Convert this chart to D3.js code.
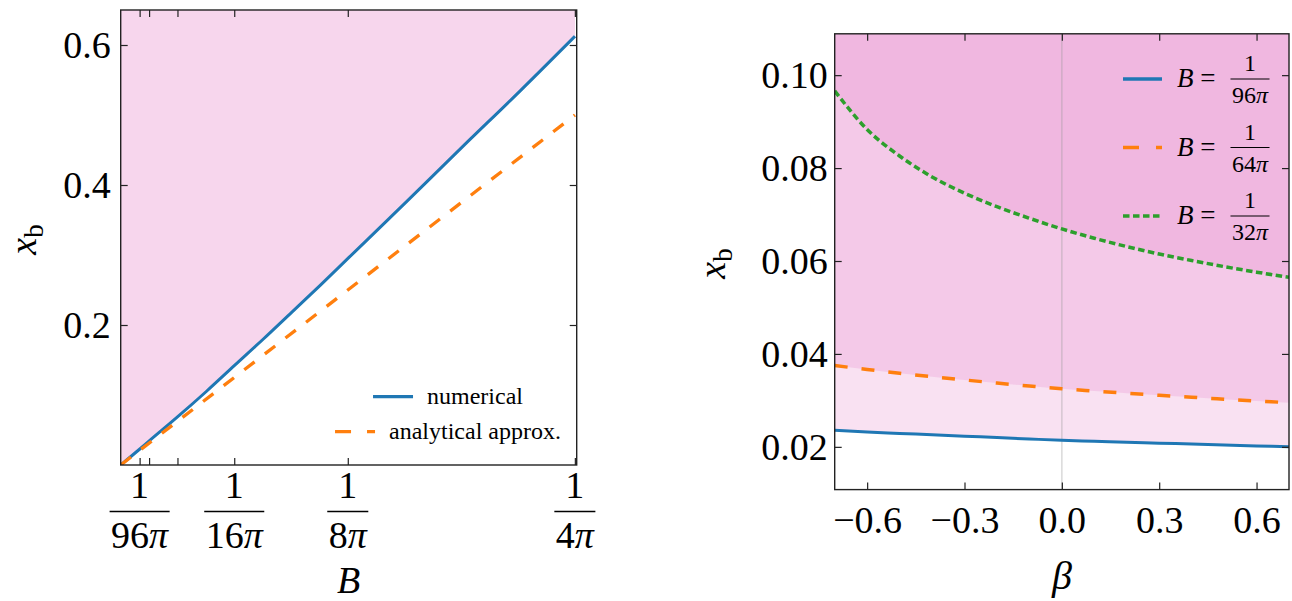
<!DOCTYPE html>
<html>
<head>
<meta charset="utf-8">
<script src="https://cdn.jsdelivr.net/npm/d3@7"></script>
<style>
  body { margin: 0; background: #fff; }
</style>
</head>
<body>
<svg id="chart" width="1292" height="601" font-family="'Liberation Serif', 'DejaVu Serif', serif"></svg>
<script>
// ---- left panel: x_b against B ----
const bVals = [0, 0.0033, 0.005, 0.01, 0.015, 0.02, 0.025, 0.03, 0.035, 0.04, 0.05, 0.06, 0.07, 0.0796];
const numerical = [0, 0.0225, 0.0344, 0.069, 0.105, 0.1426, 0.18, 0.2185, 0.257, 0.2965, 0.3755, 0.4555, 0.5345, 0.6125];
const bApprox = [0, 0.0199, 0.0398, 0.0796];
const approx = [0, 0.125, 0.25, 0.5];
const bTickDenoms = [96, 16, 8, 4];   // labelled ticks at B = 1/(d*pi)
const bMinorDenoms = [64, 32];        // unlabelled ticks
const leftYTicks = [0.2, 0.4, 0.6];

// ---- right panel: x_b against beta ----
const beta = [-0.7, -0.6, -0.5, -0.4, -0.3, -0.2, -0.1, 0, 0.1, 0.2, 0.3, 0.4, 0.5, 0.6, 0.7];
const xb96 = [0.0236, 0.0232, 0.0229, 0.0226, 0.0223, 0.022, 0.0217, 0.0214, 0.0212, 0.021, 0.0208, 0.0206, 0.0204, 0.0202, 0.02];
const xb64 = [0.0375, 0.03665, 0.03585, 0.0351, 0.0344, 0.03373, 0.0331, 0.0325, 0.032, 0.03153, 0.03109, 0.03067, 0.03027, 0.02988, 0.0295];
const xb32 = [0.0966, 0.0883, 0.0826, 0.0781, 0.0746, 0.0717, 0.0692, 0.0669, 0.0649, 0.0631, 0.0615, 0.0601, 0.0588, 0.0576, 0.0565];
const betaTicks = [-0.6, -0.3, 0, 0.3, 0.6];
const rightYTicks = [0.02, 0.04, 0.06, 0.08, 0.10];
const legendDenoms = [96, 64, 32];

const blue = "#1f77b4", orange = "#ff7f0e", green = "#2ca02c", pink = "#e377c2";
const spine = "#222";
const serif = "'Liberation Serif', 'DejaVu Serif', serif";

const svg = d3.select("#chart");

function styleAxis(g) {
    g.select(".domain").remove();
    g.attr("font-family", serif);
    g.selectAll(".tick line").attr("stroke", spine).attr("stroke-width", 1.2);
    g.selectAll(".tick text").attr("font-size", 38);
}

function frame(x0, y0, x1, y1) {
    svg.append("rect")
        .attr("x", x0).attr("y", y0)
        .attr("width", x1 - x0).attr("height", y1 - y0)
        .attr("fill", "none").attr("stroke", spine).attr("stroke-width", 1.4);
}

// ================= left panel =================
const xL = d3.scaleLinear().domain([0, 0.0799]).range([120.7, 576.7]);
const yL = d3.scaleLinear().domain([0, 0.65]).range([465, 10]);

svg.append("clipPath").attr("id", "clipL").append("rect")
    .attr("x", 120.7).attr("y", 10).attr("width", 456).attr("height", 455);

const gL = svg.append("g").attr("clip-path", "url(#clipL)");
const idxL = d3.range(bVals.length);

gL.append("path")
    .attr("d", d3.area()
        .x(i => xL(bVals[i]))
        .y0(yL(0.65))
        .y1(i => yL(numerical[i]))
        .curve(d3.curveMonotoneX)(idxL))
    .attr("fill", pink).attr("fill-opacity", 0.3);

gL.append("path")
    .attr("d", d3.line().x(i => xL(bVals[i])).y(i => yL(numerical[i])).curve(d3.curveMonotoneX)(idxL))
    .attr("fill", "none").attr("stroke", blue).attr("stroke-width", 3);

gL.append("path")
    .attr("d", d3.line().x(i => xL(bApprox[i])).y(i => yL(approx[i]))(d3.range(bApprox.length)))
    .attr("fill", "none").attr("stroke", orange).attr("stroke-width", 3.3)
    .attr("stroke-dasharray", "13,13");

const bMajor = bTickDenoms.map(d => 1 / (d * Math.PI));
const bAll = bMajor.concat(bMinorDenoms.map(d => 1 / (d * Math.PI)));

svg.append("g").attr("transform", "translate(0,465)")
    .call(d3.axisBottom(xL).tickValues(bAll).tickSizeInner(-7).tickSizeOuter(0).tickFormat(""))
    .call(styleAxis);
svg.append("g").attr("transform", "translate(0,10)")
    .call(d3.axisTop(xL).tickValues(bAll).tickSizeInner(-7).tickSizeOuter(0).tickFormat(""))
    .call(styleAxis);
svg.append("g").attr("transform", "translate(120.7,0)")
    .call(d3.axisLeft(yL).tickValues(leftYTicks).tickSizeInner(-7).tickSizeOuter(0).tickPadding(10).tickFormat(d3.format(".1f")))
    .call(styleAxis);
svg.append("g").attr("transform", "translate(576.7,0)")
    .call(d3.axisRight(yL).tickValues(leftYTicks).tickSizeInner(-7).tickSizeOuter(0).tickFormat(""))
    .call(styleAxis);

// fraction tick labels 1/(d pi)
bTickDenoms.forEach((d, i) => {
    const cx = xL(bMajor[i]);
    const g = svg.append("g").attr("transform", `translate(${cx},465)`);
    g.append("text").attr("y", 33).attr("text-anchor", "middle").attr("font-size", 38).text("1");
    const den = g.append("text").attr("y", 83).attr("text-anchor", "middle").attr("font-size", 38);
    den.append("tspan").text(d);
    den.append("tspan").attr("font-style", "italic").text("π");
    const w = den.node().getComputedTextLength() + 3;
    g.append("line").attr("x1", -w / 2).attr("x2", w / 2).attr("y1", 46.5).attr("y2", 46.5)
        .attr("stroke", "#000").attr("stroke-width", 1.6);
});

frame(120.7, 10, 576.7, 465);

// axis labels
svg.append("text").attr("x", 348.7).attr("y", 593).attr("text-anchor", "middle")
    .attr("font-size", 38).attr("font-style", "italic").text("B");

function xbLabel(x, y) {
    const t = svg.append("text").attr("transform", `translate(${x},${y}) rotate(-90)`)
        .attr("text-anchor", "middle").attr("font-size", 38);
    t.append("tspan").attr("font-style", "italic").text("x");
    t.append("tspan").attr("font-size", 27).attr("dy", 7).text("b");
}
xbLabel(36, 239.5);

// left legend (rows centred)
const legL = [
    { label: "numerical", color: blue, dash: null, y: 396.7 },
    { label: "analytical approx.", color: orange, dash: "16,16", y: 431.7 }
];
legL.forEach(r => {
    const t = svg.append("text").attr("font-size", 24).attr("y", r.y + 7).text(r.label);
    const tw = t.node().getComputedTextLength();
    const total = 40 + 14 + tw;
    const x0 = 448 - total / 2;
    t.attr("x", x0 + 54);
    svg.append("line").attr("x1", x0).attr("x2", x0 + 40).attr("y1", r.y).attr("y2", r.y)
        .attr("stroke", r.color).attr("stroke-width", 3.3)
        .attr("stroke-dasharray", r.dash);
});

// ================= right panel =================
const xR = d3.scaleLinear().domain([-0.7, 0.7]).range([834.7, 1289]);
const yR = d3.scaleLinear().domain([0.0108, 0.1089]).range([489.6, 33.8]);

svg.append("clipPath").attr("id", "clipR").append("rect")
    .attr("x", 834.7).attr("y", 33.8).attr("width", 1289 - 834.7).attr("height", 489.6 - 33.8);
const gR = svg.append("g").attr("clip-path", "url(#clipR)");
const idxR = d3.range(beta.length);

[xb96, xb64, xb32].forEach(s => {
    gR.append("path")
        .attr("d", d3.area().x(i => xR(beta[i])).y0(yR(0.1089)).y1(i => yR(s[i]))
            .curve(d3.curveMonotoneX)(idxR))
        .attr("fill", pink).attr("fill-opacity", 0.22);
});

gR.append("line").attr("x1", xR(0)).attr("x2", xR(0)).attr("y1", 33.8).attr("y2", 489.6)
    .attr("stroke", "#999").attr("stroke-opacity", 0.35).attr("stroke-width", 1.6);

const series = [
    { data: xb96, color: blue, dash: null, w: 3 },
    { data: xb64, color: orange, dash: "13,14", w: 3.5 },
    { data: xb32, color: green, dash: "6.5,3.5", w: 3.5 }
];
series.forEach(s => {
    gR.append("path")
        .attr("d", d3.line().x(i => xR(beta[i])).y(i => yR(s.data[i])).curve(d3.curveMonotoneX)(idxR))
        .attr("fill", "none").attr("stroke", s.color).attr("stroke-width", s.w)
        .attr("stroke-dasharray", s.dash);
});

svg.append("g").attr("transform", "translate(0,489.6)")
    .call(d3.axisBottom(xR).tickValues(betaTicks).tickSizeInner(-7).tickSizeOuter(0).tickPadding(16).tickFormat(d3.format(".1f")))
    .call(styleAxis);
svg.append("g").attr("transform", "translate(0,33.8)")
    .call(d3.axisTop(xR).tickValues(betaTicks).tickSizeInner(-7).tickSizeOuter(0).tickFormat(""))
    .call(styleAxis);
svg.append("g").attr("transform", "translate(834.7,0)")
    .call(d3.axisLeft(yR).tickValues(rightYTicks).tickSizeInner(-7).tickSizeOuter(0).tickPadding(7).tickFormat(d3.format(".2f")))
    .call(styleAxis);
svg.append("g").attr("transform", "translate(1289,0)")
    .call(d3.axisRight(yR).tickValues(rightYTicks).tickSizeInner(-7).tickSizeOuter(0).tickFormat(""))
    .call(styleAxis);

frame(834.7, 33.8, 1289, 489.6);

svg.append("text").attr("x", 1062).attr("y", 589).attr("text-anchor", "middle")
    .attr("font-size", 40).attr("font-style", "italic").text("β");
xbLabel(725, 263.5);

// right legend
legendDenoms.forEach((d, i) => {
    const s = series[i];
    const yc = 79 + i * 68.5;
    svg.append("line").attr("x1", 1123).attr("x2", 1162).attr("y1", yc).attr("y2", yc)
        .attr("stroke", s.color).attr("stroke-width", 3.3)
        .attr("stroke-dasharray", s.dash ? (i === 1 ? "16,17" : s.dash) : null);
    const t = svg.append("text").attr("x", 1177).attr("y", yc + 8).attr("font-size", 27);
    t.append("tspan").attr("font-style", "italic").text("B");
    t.append("tspan").text(" = ");
    const cx = 1250;
    svg.append("text").attr("x", cx).attr("y", yc - 8).attr("text-anchor", "middle")
        .attr("font-size", 24).text("1");
    const den = svg.append("text").attr("x", cx).attr("y", yc + 24).attr("text-anchor", "middle")
        .attr("font-size", 24);
    den.append("tspan").text(d);
    den.append("tspan").attr("font-style", "italic").text("π");
    const w = den.node().getComputedTextLength() + 3;
    svg.append("line").attr("x1", cx - w / 2).attr("x2", cx + w / 2).attr("y1", yc).attr("y2", yc)
        .attr("stroke", "#000").attr("stroke-width", 1.1);
});
</script>
</body>
</html>
